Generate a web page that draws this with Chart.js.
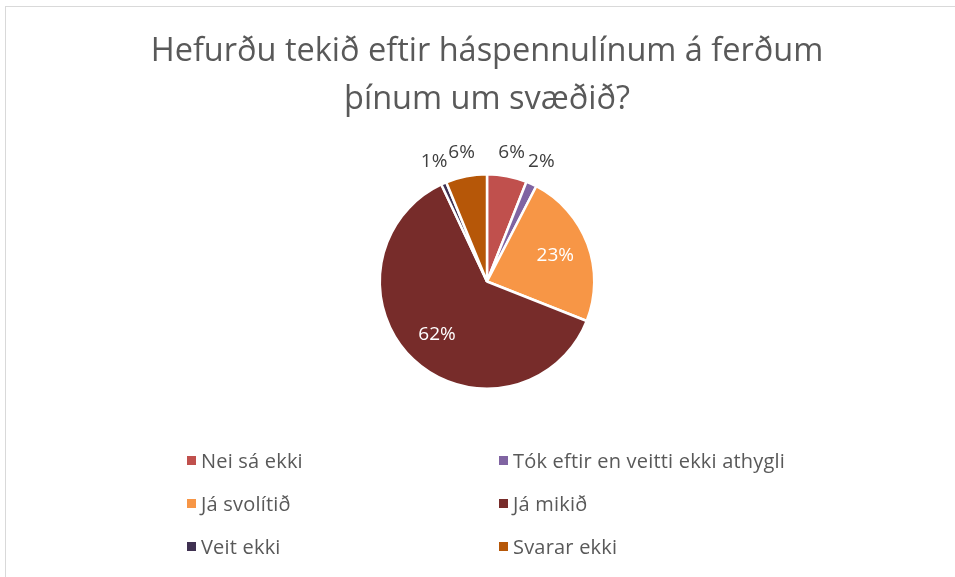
<!DOCTYPE html>
<html lang="is">
<head>
  <meta charset="UTF-8">
  <title>Hefurðu tekið eftir háspennulínum</title>
  <script src="https://cdn.jsdelivr.net/npm/chart.js"></script>
  <style>
    body { margin: 0; background: #fff; font-family: "Open Sans", sans-serif; }
    #wrap { position: relative; width: 955px; height: 577px; overflow: hidden; }
    #frame { position: absolute; left: 5px; top: 6px; width: 1000px; height: 1000px; border-left: 1px solid #d9d9d9; border-top: 1px solid #d9d9d9; }
    #chart { position: absolute; left: 0; top: 0; }
    #legend { position: absolute; left: 187px; top: 446px; display: grid; grid-template-columns: 312px 320px; row-gap: 15px; }
    .item { display: flex; align-items: center; font-size: 20px; color: #595959; height: 28px; white-space: nowrap; letter-spacing: 0.2px; }
    .box { width: 9px; height: 9px; margin-right: 5px; }
  </style>
</head>
<body>
  <div id="wrap">
    <div id="frame"></div>
    <canvas id="chart" width="955" height="577"></canvas>
    <div id="legend"></div>
  </div>
  <script>
    // gögn lesin af myndinni
    const categories = ['Nei sá ekki', 'Tók eftir en veitti ekki athygli', 'Já svolítið', 'Já mikið', 'Veit ekki', 'Svarar ekki'];
    const values = [6, 1.6, 23.4, 62, 0.8, 6.2];
    const labels = ['6%', '2%', '23%', '62%', '1%', '6%'];
    const colors = ['#C0504D', '#8064A2', '#F79646', '#772C2A', '#3F3151', '#B65708'];
    const titleLines = ['Hefurðu tekið eftir háspennulínum á ferðum', 'þínum um svæðið?'];

    const fontStack = '"Open Sans", sans-serif';

    // prósentumerki á sneiðarnar
    const sliceLabels = {
      id: 'sliceLabels',
      afterDatasetsDraw(chart) {
        const ctx = chart.ctx;
        const arcs = chart.getDatasetMeta(0).data;
        ctx.save();
        ctx.font = '19px ' + fontStack;
        ctx.textAlign = 'center';
        ctx.textBaseline = 'middle';
        arcs.forEach((arc, i) => {
          const p = arc.getProps(['x', 'y', 'startAngle', 'endAngle', 'outerRadius'], true);
          const mid = (p.startAngle + p.endAngle) / 2;
          const inside = values[i] >= 10;
          const r = inside ? p.outerRadius * 0.68 : p.outerRadius + 24;
          ctx.fillStyle = inside ? '#ffffff' : '#404040';
          ctx.fillText(labels[i], p.x + Math.cos(mid) * r, p.y + Math.sin(mid) * r);
        });
        ctx.restore();
      }
    };

    new Chart(document.getElementById('chart'), {
      type: 'pie',
      data: {
        labels: categories,
        datasets: [{
          data: values,
          backgroundColor: colors,
          borderColor: '#ffffff',
          borderWidth: 2.5
        }]
      },
      options: {
        responsive: false,
        animation: false,
        layout: { padding: { top: 0, bottom: 187, left: 19, right: 0 } },
        plugins: {
          legend: { display: false },
          tooltip: { enabled: false },
          title: {
            display: true,
            text: titleLines,
            color: '#595959',
            font: { size: 32.5, family: fontStack, weight: 'normal', lineHeight: 1.48 },
            padding: { top: 28, bottom: 48.8 }
          }
        }
      },
      plugins: [sliceLabels]
    });

    const legend = document.getElementById('legend');
    categories.forEach((name, i) => {
      const item = document.createElement('div');
      item.className = 'item';
      item.innerHTML = '<span class="box" style="background:' + colors[i] + '"></span>' + name;
      legend.appendChild(item);
    });
  </script>
</body>
</html>
